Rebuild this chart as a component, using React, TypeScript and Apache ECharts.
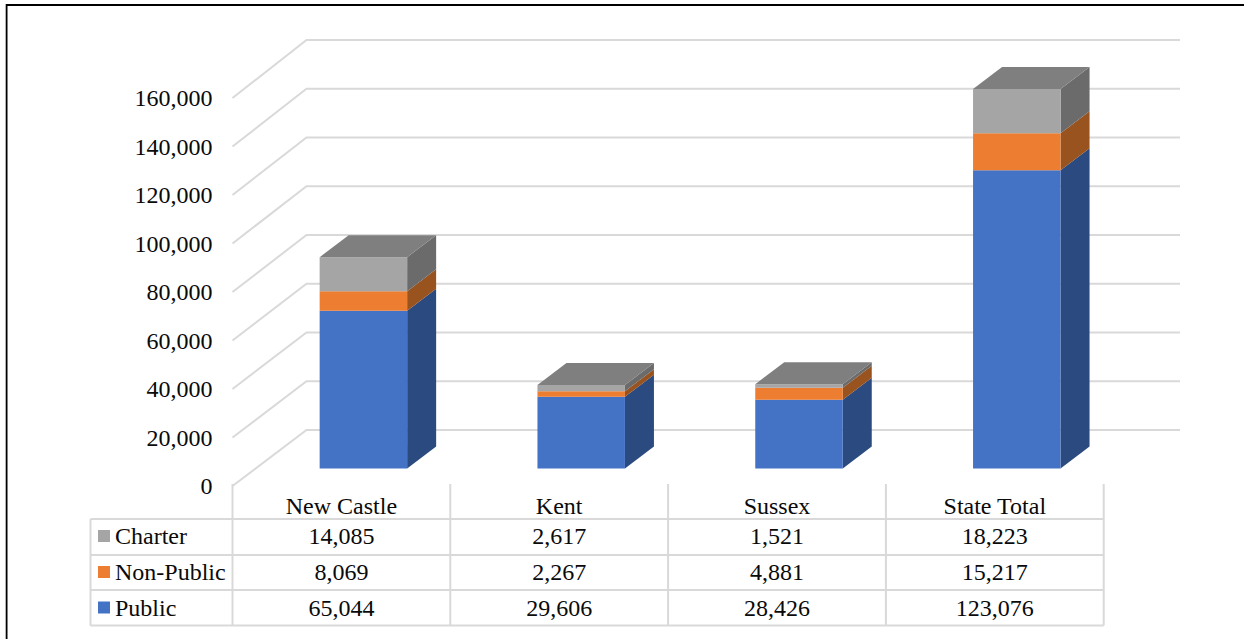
import React, { useEffect, useRef } from "react";
import * as echarts from "echarts";

const categories = ["New Castle", "Kent", "Sussex", "State Total"];
const publicValues = [65044, 29606, 28426, 123076];
const nonPublicValues = [8069, 2267, 4881, 15217];
const charterValues = [14085, 2617, 1521, 18223];
const tickValues = [0, 20000, 40000, 60000, 80000, 100000, 120000, 140000, 160000];
const AXIS_MAX = 160000;

const FONT = '"Liberation Serif", serif';
const TEXT = "#0a0a0a";
const LINE = "#d9d9d9";
const FONT_SIZE = 24;

const fmt = (v: number) => v.toLocaleString("en-US");

// Bar placement inside the pseudo-3D floor
const BAR_SHIFT_X = 22;
const BAR_SHIFT_Y = -17.4;
const BAR_WIDTH = 87.5;
const BAR_DEPTH_X = 29;
const BAR_DEPTH_Y = -22;
// Depth of the chart walls
const WALL_X = 74;
const WALL_Y_BOTTOM = -56;
const WALL_Y_TOP = -58;
const WALL_RIGHT = 1180;

const segmentRenderer =
  (front: string, side: string, top?: string) => (params: any, api: any) => {
    const idx = api.value(0);
    const [cx, y0Raw] = api.coord([idx, api.value(1)]);
    const [, y1Raw] = api.coord([idx, api.value(2)]);
    const x0 = cx + BAR_SHIFT_X - BAR_WIDTH / 2;
    const x1 = x0 + BAR_WIDTH;
    const y0 = y0Raw + BAR_SHIFT_Y;
    const y1 = y1Raw + BAR_SHIFT_Y;
    const children: any[] = [
      {
        type: "polygon",
        shape: {
          points: [
            [x1, y0],
            [x1 + BAR_DEPTH_X, y0 + BAR_DEPTH_Y],
            [x1 + BAR_DEPTH_X, y1 + BAR_DEPTH_Y],
            [x1, y1],
          ],
        },
        style: { fill: side },
      },
      {
        type: "rect",
        shape: { x: x0, y: y1, width: BAR_WIDTH, height: y0 - y1 },
        style: { fill: front },
      },
    ];
    if (top) {
      children.push({
        type: "polygon",
        shape: {
          points: [
            [x0, y1],
            [x1, y1],
            [x1 + BAR_DEPTH_X, y1 + BAR_DEPTH_Y],
            [x0 + BAR_DEPTH_X, y1 + BAR_DEPTH_Y],
          ],
        },
        style: { fill: top },
      });
    }
    return { type: "group", children };
  };

const gridlineRenderer = (params: any, api: any) => {
  const left = params.coordSys.x;
  const v = api.value(0);
  const [, y] = api.coord([0, v]);
  const backY = y + WALL_Y_BOTTOM + (WALL_Y_TOP - WALL_Y_BOTTOM) * (v / AXIS_MAX);
  return {
    type: "polyline",
    shape: {
      points: [
        [left, y],
        [left + WALL_X, backY],
        [WALL_RIGHT, backY],
      ],
    },
    style: { stroke: LINE, lineWidth: 2, fill: "none" },
  };
};

export default function App() {
  const ref = useRef<HTMLDivElement>(null);

  useEffect(() => {
    const chart = echarts.init(ref.current!, undefined, { renderer: "svg" });

    const stackBase = (i: number, level: number) => {
      const lower = [publicValues, nonPublicValues, charterValues].slice(0, level);
      return lower.reduce((s, arr) => s + arr[i], 0);
    };
    const segData = (values: number[], level: number) =>
      values.map((v, i) => [i, stackBase(i, level), stackBase(i, level) + v]);

    const colX0 = 232.5;
    const colW = 217.8;
    const rowYs = [519, 555, 590, 625.5];
    const rowTextYs = [536, 572, 607.5];
    const tableLeft = 90.5;
    const tableRight = colX0 + colW * categories.length;
    const rows = [
      { name: "Charter", values: charterValues, color: "#A5A5A5" },
      { name: "Non-Public", values: nonPublicValues, color: "#ED7D31" },
      { name: "Public", values: publicValues, color: "#4472C4" },
    ];

    const graphics: any[] = [];
    const line = (x1: number, y1: number, x2: number, y2: number, stroke = LINE, lineWidth = 2) =>
      graphics.push({ type: "line", silent: true, shape: { x1, y1, x2, y2 }, style: { stroke, lineWidth } });

    // Page frame
    line(6.6, 4, 6.6, 639, "#000", 1.8);
    line(6, 5, 1244, 5, "#000", 1.8);

    // Data table rules
    rowYs.forEach((y) => line(tableLeft, y, tableRight, y));
    line(tableLeft, rowYs[0], tableLeft, rowYs[3]);
    categories.forEach((_, i) => line(colX0 + colW * i, 484, colX0 + colW * i, rowYs[3]));
    line(tableRight, 484, tableRight, rowYs[3]);

    // Data table content
    rows.forEach((row, r) => {
      const cy = rowTextYs[r];
      graphics.push({
        type: "rect",
        silent: true,
        shape: { x: 98, y: cy - 6, width: 12, height: 12 },
        style: { fill: row.color },
      });
      graphics.push({
        type: "text",
        silent: true,
        x: 115,
        y: cy,
        style: { text: row.name, font: `${FONT_SIZE}px ${FONT}`, fill: TEXT, textAlign: "left", textVerticalAlign: "middle" },
      });
      row.values.forEach((v, i) => {
        graphics.push({
          type: "text",
          silent: true,
          x: colX0 + colW * (i + 0.5),
          y: cy,
          style: { text: fmt(v), font: `${FONT_SIZE}px ${FONT}`, fill: TEXT, textAlign: "center", textVerticalAlign: "middle" },
        });
      });
    });

    chart.setOption({
      animation: false,
      backgroundColor: "#ffffff",
      textStyle: { fontFamily: FONT },
      grid: { left: 232.5, width: 871.2, top: 98, height: 388, containLabel: false },
      xAxis: {
        type: "category",
        data: categories,
        axisLine: { show: false },
        axisTick: { show: false },
        axisLabel: { color: TEXT, fontFamily: FONT, fontSize: FONT_SIZE, margin: 8 },
      },
      yAxis: {
        type: "value",
        min: 0,
        max: AXIS_MAX,
        interval: 20000,
        splitLine: { show: false },
        axisLine: { show: false },
        axisTick: { show: false },
        axisLabel: {
          color: TEXT,
          fontFamily: FONT,
          fontSize: FONT_SIZE,
          margin: 20,
          padding: [0, 0, 2, 0],
          formatter: (v: number) => fmt(v),
        },
      },
      graphic: { elements: graphics },
      series: [
        {
          type: "custom",
          name: "Gridlines",
          silent: true,
          z: 1,
          data: tickValues.map((v) => [v]),
          encode: { y: 0 },
          renderItem: gridlineRenderer,
        },
        {
          type: "custom",
          name: "Public",
          z: 2,
          data: segData(publicValues, 0),
          encode: { x: 0, y: [1, 2] },
          renderItem: segmentRenderer("#4472C4", "#2B4A80"),
        },
        {
          type: "custom",
          name: "Non-Public",
          z: 3,
          data: segData(nonPublicValues, 1),
          encode: { x: 0, y: [1, 2] },
          renderItem: segmentRenderer("#ED7D31", "#98531F"),
        },
        {
          type: "custom",
          name: "Charter",
          z: 4,
          data: segData(charterValues, 2),
          encode: { x: 0, y: [1, 2] },
          renderItem: segmentRenderer("#A5A5A5", "#6B6B6B", "#7F7F7F"),
        },
      ],
    });

    return () => chart.dispose();
  }, []);

  return (
    <div
      ref={ref}
      style={{ position: "absolute", left: 0, top: 0, width: 1244, height: 639, background: "#fff" }}
    />
  );
}
